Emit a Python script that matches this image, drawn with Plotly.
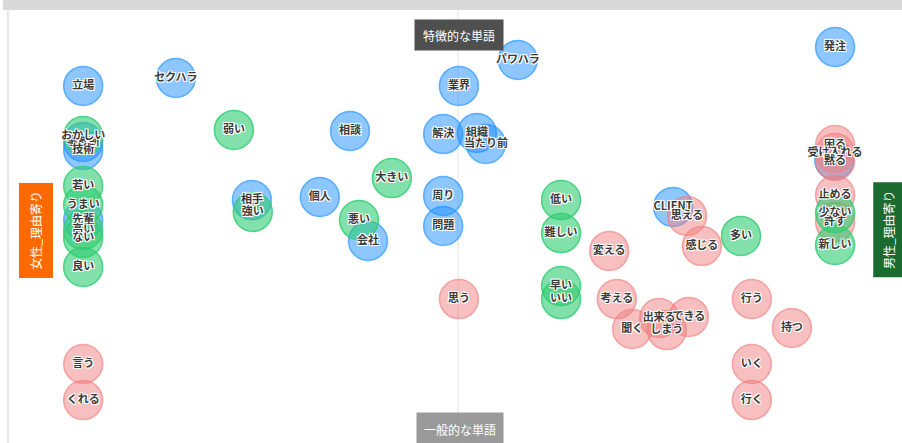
import plotly.graph_objects as go

# ---- data (x: -1 女性寄り … +1 男性寄り, y: -1 一般的 … +1 特徴的) ----
noun_words = ["立場", "セクハラ", "相談", "業界", "パワハラ", "解決", "組織", "当たり前",
              "周り", "問題", "個人", "会社", "相手", "事務所", "技術", "先輩",
              "CLIENT", "発注", ""]
noun_x = [-0.833, -0.627, -0.240, 0.002, 0.133, -0.033, 0.042, 0.062,
          -0.033, -0.033, -0.307, -0.200, -0.458, -0.833, -0.833, -0.833,
          0.478, 0.838, 0.836]
noun_y = [0.655, 0.691, 0.450, 0.655, 0.773, 0.436, 0.441, 0.391,
          0.155, 0.018, 0.150, -0.050, 0.136, 0.400, 0.364, 0.045,
          0.105, 0.832, 0.318]

adj_words = ["弱い", "大きい", "悪い", "強い", "おかしい", "若い", "うまい", "高い",
             "ない", "良い", "低い", "難しい", "早い", "いい", "多い", "少ない", "新しい"]
adj_x = [-0.498, -0.147, -0.220, -0.456, -0.833, -0.833, -0.833, -0.833,
         -0.833, -0.833, 0.229, 0.229, 0.229, 0.229, 0.629, 0.838, 0.838]
adj_y = [0.455, 0.236, 0.045, 0.082, 0.427, 0.200, 0.114, 0.000,
         -0.036, -0.168, 0.136, -0.014, -0.255, -0.314, -0.027, 0.077, -0.068]

verb_words = ["言う", "くれる", "思う", "変える", "思える", "感じる", "考える", "出来る",
              "できる", "聞く", "しまう", "行う", "持つ", "いく", "行く",
              "困る", "受け入れる", "黙る", "止める", "許す"]
verb_x = [-0.833, -0.833, 0.002, 0.336, 0.509, 0.542, 0.353, 0.447,
          0.513, 0.387, 0.464, 0.653, 0.742, 0.653, 0.653,
          0.838, 0.838, 0.838, 0.838, 0.838]
verb_y = [-0.609, -0.773, -0.314, -0.095, 0.064, -0.073, -0.314, -0.400,
          -0.395, -0.450, -0.455, -0.314, -0.445, -0.609, -0.773,
          0.386, 0.350, 0.314, 0.159, 0.036]

label_top = "特徴的な単語"
label_bottom = "一般的な単語"
label_left = "女性_理由寄り"
label_right = "男性_理由寄り"

FONT = "Noto Sans CJK JP"
SHADOW = "1px 1px 0 #fff, -1px -1px 0 #fff, 1px -1px 0 #fff, -1px 1px 0 #fff, 0 0 2px #fff"

groups = [
    (noun_words, noun_x, noun_y, "rgba(30,144,255,0.5)", "rgba(30,144,255,0.65)"),
    (verb_words, verb_x, verb_y, "rgba(240,128,128,0.5)", "rgba(240,128,128,0.65)"),
    (adj_words, adj_x, adj_y, "rgba(46,204,113,0.6)", "rgba(46,204,113,0.8)"),
]

fig = go.Figure()
# circles first
for words, xs, ys, fill, edge in groups:
    fig.add_trace(go.Scatter(
        x=xs, y=ys, text=words, mode="markers",
        marker=dict(size=39, color=fill, line=dict(color=edge, width=1.5)),
        hoverinfo="text", showlegend=False, cliponaxis=False,
    ))
# labels on top of all circles
for words, xs, ys, fill, edge in groups:
    fig.add_trace(go.Scatter(
        x=xs, y=ys, text=words, mode="text", textposition="middle center",
        textfont=dict(family=FONT, size=11, color="#3a3a3a", weight="bold", shadow=SHADOW),
        hoverinfo="skip", showlegend=False, cliponaxis=False,
    ))

X0, X1 = -1.0178, 0.9867
Y0, Y1 = -0.9682, 1.0455

shapes = [
    dict(type="rect", xref="x", yref="y", x0=-1.011, x1=X1 + 0.01, y0=1.0, y1=Y1 + 0.01,
         fillcolor="#d9d9d9", line=dict(width=0), layer="below"),
    dict(type="line", xref="x", yref="y", x0=-1.0, x1=-1.0, y0=Y0 - 0.01, y1=1.0,
         line=dict(color="#e8e8e8", width=2.5), layer="below"),
    dict(type="line", xref="x", yref="y", x0=0.0, x1=0.0, y0=Y0 - 0.01, y1=1.0,
         line=dict(color="#e3e3e3", width=1), layer="below"),
]

annotations = [
    dict(x=0.002, y=0.886, xref="x", yref="y", text=label_top, showarrow=False,
         font=dict(family=FONT, size=12, color="#ffffff"), bgcolor="#4f4f4f",
         width=84, height=26, borderpad=2),
    dict(x=0.004, y=-0.905, xref="x", yref="y", text=label_bottom, showarrow=False,
         font=dict(family=FONT, size=12, color="#ffffff"), bgcolor="rgba(120,120,120,0.75)",
         width=82, height=28, borderpad=2),
    dict(x=-0.939, y=0.0, xref="x", yref="y", text=label_left, showarrow=False,
         textangle=-90, font=dict(family=FONT, size=12, color="#ffffff"),
         bgcolor="#ff6a00", width=90, height=29, borderpad=2),
    dict(x=0.955, y=0.0, xref="x", yref="y", text=label_right, showarrow=False,
         textangle=-90, font=dict(family=FONT, size=12, color="#ffffff"),
         bgcolor="#1b6a30", width=90, height=25, borderpad=2),
]

fig.update_layout(
    width=902, height=443,
    margin=dict(l=0, r=0, t=0, b=0),
    paper_bgcolor="white", plot_bgcolor="white",
    xaxis=dict(range=[X0, X1], visible=False, fixedrange=True),
    yaxis=dict(range=[Y0, Y1], visible=False, fixedrange=True),
    shapes=shapes, annotations=annotations,
)

fig.write_html("out.html", config={"displayModeBar": False},
               post_script="document.body.style.margin='0px';document.body.style.overflow='hidden';")
